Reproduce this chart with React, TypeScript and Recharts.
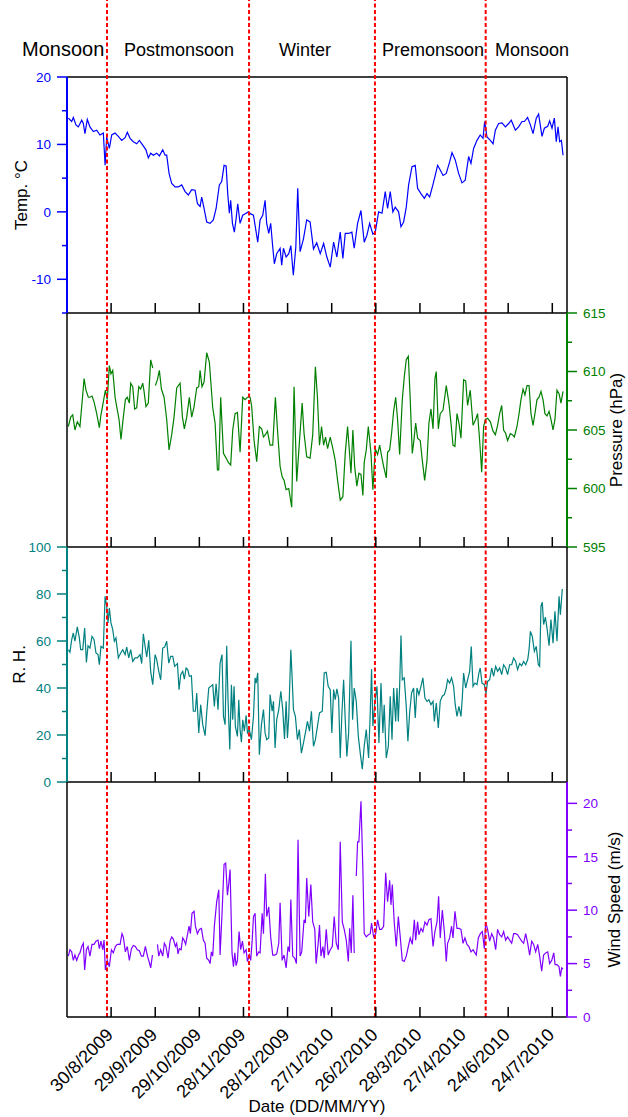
import { LineChart, Line, XAxis, YAxis, ReferenceLine } from "recharts";

type Pt = [number, number | null];

// x axis: days since 31/7/2009
const dateTicks = [30, 60, 90, 120, 150, 180, 210, 240, 270, 300, 330];
const dateLabels = [
  "30/8/2009",
  "29/9/2009",
  "29/10/2009",
  "28/11/2009",
  "28/12/2009",
  "27/1/2010",
  "26/2/2010",
  "28/3/2010",
  "27/4/2010",
  "24/6/2010",
  "24/7/2010",
];

const seasonBounds = [27.2, 123.8, 209.4, 284.7];
const seasonNames = ["Monsoon", "Postmonsoon", "Winter", "Premonsoon", "Monsoon"];

const tempTicks = [-15, -10, -5, 0, 5, 10, 15, 20];
const pressureTicks = [595, 597.5, 600, 602.5, 605, 607.5, 610, 612.5, 615];
const rhTicks = [0, 10, 20, 30, 40, 50, 60, 70, 80, 90, 100];
const windTicks = [0, 2.5, 5, 7.5, 10, 12.5, 15, 17.5, 20];

const temperature: Pt[] = [
  [0.9, 13.9], [3.2, 13.4], [4.3, 14.0], [6.1, 12.9], [7.7, 12.6], [10.0, 13.6], [11.1, 13.1], [12.2, 11.6],
  [13.8, 13.7], [15.6, 12.6], [17.9, 11.9], [20.2, 12.1], [22.4, 11.4], [24.7, 11.7], [25.9, 6.9], [27.0, 11.1],
  [28.8, 9.4], [30.4, 11.4], [32.7, 11.7], [34.9, 11.2], [37.2, 10.6], [39.5, 11.0], [41.0, 11.8], [42.9, 10.9],
  [45.1, 10.4], [47.4, 10.1], [49.2, 10.6], [51.5, 9.9], [53.7, 9.2], [55.3, 8.0], [56.9, 8.7], [58.7, 8.4],
  [61.0, 8.7], [62.8, 8.3], [65.1, 9.2], [66.7, 8.4], [67.8, 8.4], [69.4, 5.7], [71.2, 4.2], [73.5, 3.7],
  [75.7, 3.7], [78.0, 4.0], [80.3, 3.0], [82.5, 2.5], [84.8, 3.3], [87.1, 3.2], [88.7, 1.2], [90.5, 0.8],
  [91.6, 2.2], [93.2, 0.5], [95.0, -1.5], [97.3, -1.7], [99.5, -1.2], [101.4, 0.5], [103.6, 4.0], [105.2, 4.5],
  [106.8, 6.9], [108.2, 6.8], [109.3, 2.7], [110.4, -0.2], [111.3, 1.7], [112.5, -1.7], [113.8, -3.0], [115.0, -1.0],
  [116.1, 1.2], [117.7, -1.7], [119.5, -0.5], [121.8, -0.2], [123.4, 0.0], [124.9, -0.3], [126.8, -0.5], [127.9, -2.0],
  [129.7, -4.5], [131.3, -1.2], [133.1, -0.5], [134.7, 1.7], [135.8, -1.7], [137.2, -3.2], [138.5, -1.7], [139.9, -5.2],
  [141.0, -7.7], [142.6, -6.2], [144.9, -5.4], [146.0, -7.9], [147.2, -5.4], [149.0, -6.7], [150.8, -6.2], [152.2, -5.0],
  [153.9, -9.4], [155.6, -5.2], [156.9, 3.5], [158.5, -5.9], [160.8, -4.0], [163.0, -1.2], [165.3, -1.5], [167.6, -5.5],
  [169.8, -4.6], [172.2, -6.2], [174.5, -4.7], [176.7, -6.7], [179.0, -8.2], [181.3, -4.5], [183.5, -6.7], [185.8, -3.0],
  [187.6, -6.9], [189.2, -3.2], [191.5, -3.2], [193.7, -3.0], [195.3, -5.4], [197.6, -1.7], [199.9, 0.2], [202.1, -4.5],
  [203.9, -3.5], [205.8, -1.7], [208.0, -3.3], [209.6, -3.0], [211.9, 0.0], [214.2, -0.2], [216.4, 3.0], [218.0, 0.5],
  [219.8, 3.0], [221.6, 0.0], [223.2, 0.7], [225.5, 0.0], [227.1, -2.2], [228.9, -1.5], [230.7, 0.7], [232.3, 4.0],
  [234.6, 6.7], [236.8, 6.9], [238.4, 3.5], [240.7, 2.7], [243.0, 2.0], [244.8, 2.7], [246.6, 2.2], [248.8, 4.0],
  [250.4, 5.4], [252.0, 6.9], [253.8, 6.2], [255.7, 5.4], [257.9, 5.7], [260.2, 7.4], [261.8, 8.8], [264.0, 7.7],
  [266.3, 5.7], [268.6, 4.3], [270.8, 4.7], [273.1, 8.2], [274.7, 7.2], [276.5, 9.4], [278.8, 10.6], [281.0, 11.4],
  [282.9, 10.9], [284.0, 13.4], [285.6, 11.1], [287.9, 10.6], [289.7, 10.1], [291.3, 12.1], [293.5, 13.1], [295.8, 13.2],
  [298.1, 12.6], [300.3, 13.1], [302.1, 13.6], [304.9, 12.1], [307.1, 12.6], [309.4, 13.4], [311.0, 13.4], [313.2, 14.0],
  [315.1, 12.9], [316.9, 11.6], [319.1, 13.9], [320.7, 14.5], [323.0, 11.2], [324.6, 12.4], [326.9, 12.7], [328.2, 13.5],
  [329.8, 12.4], [331.4, 13.9], [332.7, 10.4], [333.9, 12.6], [335.0, 10.4], [336.2, 10.6], [337.3, 8.4],
];

const pressure: Pt[] = [
  [0.9, 605.3], [2.5, 606.1], [3.9, 606.3], [5.4, 605.0], [7.0, 605.7], [8.8, 605.3], [10.7, 608.0], [11.6, 609.4],
  [12.9, 608.4], [14.5, 607.8], [15.6, 607.8], [17.0, 607.9], [18.4, 607.4], [20.2, 606.4], [22.0, 605.2], [23.1, 606.3],
  [24.7, 607.4], [26.1, 608.4], [27.4, 607.6], [28.8, 610.5], [29.9, 609.8], [31.1, 610.1], [32.7, 607.8], [33.8, 607.0],
  [35.4, 605.9], [36.7, 604.2], [38.3, 606.1], [39.7, 607.6], [41.0, 607.8], [42.4, 607.3], [43.3, 609.0], [44.7, 608.7],
  [46.0, 606.8], [47.4, 606.9], [48.8, 608.7], [50.1, 608.5], [51.5, 609.0], [52.4, 608.3], [53.7, 607.0], [55.3, 607.3],
  [56.9, 611.0], [58.3, 610.3], [59.2, null], [60.1, 608.8], [61.5, 609.3], [62.8, 610.1], [64.2, 608.5], [66.0, 607.8],
  [67.8, 605.9], [69.4, 603.3], [71.2, 604.6], [72.8, 606.1], [74.6, 608.6], [76.9, 609.0], [78.5, 606.1], [79.8, 605.1],
  [81.4, 606.1], [83.2, 607.8], [84.8, 606.1], [86.4, 607.0], [88.2, 608.6], [89.6, 608.7], [90.5, 610.1], [91.8, 608.7],
  [93.2, 609.1], [95.0, 611.6], [96.8, 610.8], [99.1, 606.9], [100.7, 605.6], [102.3, 601.6], [103.2, 601.6], [104.5, 607.8],
  [106.4, 603.0], [108.2, 602.6], [109.8, 602.2], [111.3, 602.0], [112.7, 605.0], [114.3, 606.4], [115.9, 606.5], [117.7, 603.1],
  [119.5, 607.8], [121.1, 607.6], [122.7, 607.8], [124.5, 607.8], [125.6, 607.0], [127.2, 604.1], [129.0, 602.3], [130.8, 605.3],
  [132.4, 605.1], [133.6, 604.4], [134.9, 604.6], [136.3, 604.9], [138.1, 603.7], [139.9, 603.7], [141.7, 607.8], [143.3, 604.7],
  [144.9, 601.9], [146.3, 601.0], [147.6, 600.7], [149.0, 599.9], [150.8, 600.0], [152.8, 598.4], [154.4, 608.7], [156.2, 600.6],
  [158.0, 603.9], [159.9, 607.3], [161.2, 604.7], [163.0, 602.7], [165.3, 602.6], [167.1, 604.6], [168.9, 610.4], [170.3, 607.8],
  [171.7, 603.7], [173.1, 605.3], [174.5, 603.7], [175.8, 604.4], [177.2, 603.4], [179.0, 604.4], [180.8, 603.4], [182.4, 602.4],
  [184.0, 600.7], [185.8, 599.0], [187.6, 599.3], [189.2, 603.0], [190.8, 605.3], [192.2, 602.9], [193.1, 601.3], [194.4, 605.0],
  [195.6, 601.9], [197.1, 600.2], [198.5, 601.3], [199.9, 601.2], [201.2, 599.4], [202.1, 602.2], [203.5, 603.3], [204.9, 605.3],
  [206.7, 603.0], [208.0, 599.9], [209.6, 603.4], [211.2, 602.9], [212.6, 603.7], [214.2, 602.6], [215.3, 601.9], [217.1, 600.9],
  [218.0, 603.1], [219.4, 603.3], [220.7, 604.7], [222.1, 606.6], [223.5, 607.8], [224.8, 605.9], [226.2, 602.9], [228.0, 607.6],
  [229.4, 609.6], [230.7, 611.0], [232.1, 611.3], [233.4, 607.6], [234.8, 603.0], [235.7, 603.9], [237.1, 605.6], [238.4, 604.3],
  [240.2, 604.1], [241.6, 602.4], [243.2, 600.7], [244.8, 602.4], [246.1, 605.6], [247.5, 606.8], [248.9, 605.1], [250.2, 609.4],
  [251.1, 610.0], [252.5, 605.1], [253.8, 606.4], [255.7, 606.7], [257.9, 608.8], [259.7, 607.3], [261.1, 605.6], [262.5, 603.7],
  [263.8, 603.6], [265.2, 606.4], [266.5, 605.6], [267.9, 604.3], [269.7, 609.3], [271.1, 609.2], [272.4, 607.1], [274.2, 608.4],
  [276.1, 605.4], [277.9, 605.9], [279.2, 606.4], [280.6, 604.1], [282.0, 601.4], [283.3, 605.3], [284.5, 605.9], [286.0, 606.0],
  [287.9, 605.7], [289.7, 604.9], [291.3, 604.6], [292.8, 605.4], [294.2, 606.4], [295.6, 607.1], [296.9, 605.0], [298.3, 604.7],
  [299.6, 604.1], [301.5, 604.7], [302.8, 604.6], [304.2, 604.4], [306.0, 605.3], [307.4, 606.4], [308.7, 607.6], [310.1, 608.5],
  [311.4, 608.0], [312.8, 608.8], [314.2, 608.8], [315.5, 606.4], [316.9, 605.4], [318.2, 606.4], [319.6, 607.6], [321.0, 607.8],
  [322.3, 608.3], [323.7, 607.6], [325.0, 606.4], [326.4, 606.2], [327.8, 606.6], [329.1, 605.9], [330.5, 605.0], [331.8, 605.9],
  [333.2, 608.4], [334.6, 608.1], [335.9, 607.3], [337.3, 608.3],
];

const humidity: Pt[] = [
  [0.9, 56.3], [2.0, 55.2], [3.2, 60.6], [4.3, 63.4], [5.4, 59.9], [7.0, 66.0], [8.4, 61.3], [9.3, 56.3],
  [10.7, 56.3], [12.0, 65.5], [13.2, 50.9], [14.3, 58.0], [15.6, 57.0], [17.0, 62.0], [18.4, 60.6], [19.7, 54.9],
  [21.1, 54.2], [22.0, 49.9], [23.1, 57.7], [24.7, 57.0], [25.9, 79.0], [27.0, 74.8], [27.9, 67.7], [28.8, 74.0],
  [29.9, 67.7], [31.1, 64.8], [32.2, 59.9], [33.3, 61.3], [34.9, 52.8], [36.5, 54.9], [37.9, 56.3], [39.5, 54.2],
  [40.6, 57.4], [42.0, 52.8], [43.3, 56.3], [44.7, 51.3], [46.3, 52.8], [47.8, 52.8], [49.7, 54.2], [50.8, 50.4],
  [51.9, 63.1], [53.1, 57.7], [54.2, 53.2], [55.6, 60.3], [56.9, 47.1], [58.3, 41.4], [59.9, 54.2], [61.0, 52.1],
  [62.4, 47.1], [63.7, 43.5], [65.1, 57.0], [66.4, 57.4], [67.8, 59.9], [69.2, 50.6], [70.5, 53.5], [71.9, 53.5],
  [73.2, 49.2], [75.1, 50.4], [76.2, 39.3], [77.3, 45.7], [78.7, 47.1], [79.8, 43.8], [81.0, 48.5], [82.1, 47.8],
  [83.2, 45.0], [84.6, 45.2], [85.9, 30.1], [87.3, 30.1], [88.2, 37.9], [89.6, 20.9], [90.9, 32.9], [92.3, 24.4],
  [93.9, 19.7], [95.0, 29.4], [96.4, 40.0], [97.7, 40.7], [99.1, 41.4], [100.2, 32.2], [101.4, 41.8], [102.7, 30.8],
  [104.1, 50.6], [105.4, 54.2], [106.4, 27.9], [107.5, 24.4], [108.6, 58.0], [109.5, 35.0], [110.7, 13.8], [111.8, 41.4],
  [112.7, 26.5], [113.6, 40.7], [114.5, 23.7], [115.9, 19.4], [116.8, 35.0], [117.7, 22.3], [118.6, 16.9], [119.5, 26.5],
  [120.6, 21.6], [121.8, 28.4], [122.7, 20.9], [124.0, 22.3], [125.4, 18.0], [126.8, 27.9], [127.9, 44.3], [128.6, 42.1],
  [129.7, 46.4], [130.8, 11.6], [132.2, 24.4], [133.6, 30.8], [134.7, 20.9], [135.8, 18.0], [137.2, 18.7], [138.1, 37.2],
  [139.5, 30.1], [140.4, 34.3], [141.5, 14.5], [142.6, 26.5], [144.0, 30.8], [145.4, 38.6], [146.7, 30.8], [147.9, 18.3],
  [149.0, 34.3], [149.9, 18.7], [150.8, 27.9], [152.2, 56.3], [153.1, 44.3], [154.0, 30.8], [155.3, 27.9], [156.7, 18.0],
  [158.0, 22.3], [159.4, 12.3], [160.8, 16.6], [162.1, 20.9], [163.5, 25.8], [164.9, 21.6], [166.2, 30.1], [167.6, 15.2],
  [168.9, 18.0], [170.3, 23.7], [171.7, 29.4], [173.6, 30.1], [174.9, 46.4], [176.3, 46.7], [177.6, 40.7], [179.0, 39.3],
  [180.1, 20.9], [181.3, 39.3], [182.4, 35.0], [183.5, 39.6], [184.7, 35.7], [185.8, 10.2], [186.9, 28.7], [188.1, 43.5],
  [189.2, 26.5], [190.3, 10.9], [191.5, 20.9], [193.1, 60.1], [194.2, 26.5], [195.3, 40.0], [196.7, 34.3], [198.1, 19.4],
  [199.4, 12.3], [200.8, 5.5], [202.1, 15.2], [203.5, 22.3], [205.1, 10.2], [206.2, 29.4], [207.1, 48.1], [208.0, 23.7],
  [209.4, 34.3], [210.8, 40.7], [212.1, 16.6], [213.5, 42.1], [214.8, 20.9], [215.7, 32.9], [217.1, 10.2], [218.5, 15.2],
  [219.8, 36.5], [221.0, 18.0], [222.1, 40.0], [223.5, 25.8], [224.4, 40.0], [225.3, 25.8], [226.2, 40.7], [227.1, 62.3],
  [228.0, 43.5], [229.3, 44.3], [230.7, 32.2], [231.8, 17.3], [233.0, 29.4], [234.3, 37.9], [235.7, 40.0], [236.8, 27.2],
  [238.0, 40.0], [239.3, 37.2], [240.7, 40.7], [242.0, 44.3], [243.4, 35.7], [244.8, 34.3], [246.1, 35.0], [247.5, 32.9],
  [248.9, 34.3], [249.8, 25.8], [251.1, 33.6], [252.5, 23.0], [253.8, 34.3], [255.2, 36.5], [256.6, 37.2], [257.9, 40.0],
  [258.8, 43.5], [260.2, 42.1], [261.5, 44.3], [262.9, 40.7], [264.0, 32.9], [265.2, 27.9], [266.5, 32.2], [267.9, 27.9],
  [268.8, 35.7], [269.7, 46.4], [271.1, 40.0], [272.4, 43.5], [273.8, 47.1], [274.9, 57.7], [276.1, 40.7], [277.4, 42.1],
  [278.8, 41.4], [280.1, 46.4], [281.0, 48.5], [282.2, 42.1], [283.8, 41.4], [284.9, 37.6], [286.0, 42.8], [287.4, 43.5],
  [288.8, 48.5], [290.1, 45.0], [291.5, 49.2], [292.8, 47.1], [294.2, 48.5], [295.6, 45.7], [296.9, 49.9], [298.3, 48.5],
  [299.6, 45.7], [301.0, 49.9], [302.4, 49.9], [303.7, 52.8], [305.1, 51.3], [306.4, 47.8], [307.8, 50.4], [309.2, 49.5],
  [310.5, 51.3], [311.9, 49.9], [313.3, 52.1], [314.2, 56.3], [315.1, 64.1], [316.4, 62.0], [317.8, 55.6], [319.1, 57.7],
  [320.5, 49.9], [321.4, 49.2], [322.3, 74.8], [323.2, 76.5], [324.1, 67.0], [325.3, 70.2], [326.4, 65.5], [327.8, 58.0],
  [329.1, 69.1], [330.5, 59.1], [331.8, 72.6], [333.2, 59.9], [334.6, 79.0], [335.5, 71.2], [336.8, 82.1],
];

const windSpeed: Pt[] = [
  [0.9, 5.7], [2.0, 6.3], [3.2, 6.1], [4.3, 5.3], [5.4, 5.8], [6.6, 5.3], [7.9, 5.8], [8.8, 6.0],
  [10.0, 6.6], [11.1, 6.9], [12.0, 4.4], [13.2, 6.3], [14.3, 6.6], [15.6, 5.7], [17.0, 6.8], [18.4, 6.8],
  [19.7, 7.1], [21.1, 7.2], [22.0, 6.4], [23.1, 7.1], [24.3, 6.3], [25.2, 7.2], [26.1, 4.4], [27.4, 5.3],
  [28.8, 4.7], [30.2, 6.3], [31.5, 6.0], [32.9, 6.6], [34.2, 6.8], [36.1, 6.8], [37.4, 7.8], [38.3, 7.5],
  [39.7, 6.1], [41.0, 6.6], [42.4, 5.3], [43.8, 6.4], [45.1, 6.7], [46.5, 6.6], [47.8, 6.3], [49.2, 6.2],
  [50.6, 5.7], [51.9, 5.7], [53.3, 6.6], [54.7, 5.7], [56.0, 5.1], [56.9, 4.6], [58.1, 5.8], [59.8, null],
  [61.5, 6.8], [62.4, 5.7], [63.7, 6.3], [65.1, 5.7], [66.2, 6.9], [67.3, 6.6], [68.7, 5.5], [70.1, 7.1],
  [71.2, 7.5], [72.3, 7.3], [73.7, 6.6], [74.6, 6.9], [75.5, 5.9], [76.4, 6.4], [77.6, 6.3], [78.7, 7.4],
  [79.6, 7.2], [80.7, 6.8], [81.9, 7.7], [83.0, 8.5], [83.9, 7.8], [85.0, 9.7], [86.4, 9.9], [87.3, 8.5],
  [88.7, 7.8], [90.0, 8.2], [91.4, 8.3], [92.7, 7.2], [93.9, 6.9], [95.0, 5.5], [96.4, 5.3], [97.3, 5.0],
  [98.2, 6.1], [99.1, 5.7], [100.2, 8.5], [101.8, 10.8], [103.2, 11.9], [104.1, 5.8], [105.4, 9.6], [106.8, 14.3],
  [107.9, 14.4], [109.1, 11.4], [110.0, 12.5], [110.9, 13.8], [112.2, 6.0], [113.2, 4.7], [114.1, 6.0], [115.0, 4.8],
  [115.9, 5.3], [117.0, 8.0], [118.1, 6.3], [119.3, 7.1], [120.4, 6.0], [121.8, 6.3], [122.7, 5.2], [124.0, 5.8],
  [124.9, 5.3], [125.9, 7.1], [126.8, 9.4], [127.9, 9.7], [129.0, 5.7], [130.4, 6.1], [131.3, 6.0], [132.7, 9.7],
  [133.6, 7.8], [134.9, 13.4], [135.8, 9.4], [137.2, 10.3], [138.5, 7.5], [139.9, 5.8], [141.3, 5.8], [142.6, 5.9],
  [144.0, 6.9], [144.9, 10.7], [146.3, 5.3], [147.6, 5.8], [149.0, 4.6], [150.3, 6.6], [151.3, 6.1], [152.2, 11.0],
  [153.5, 5.7], [154.9, 5.5], [156.0, 5.0], [157.1, 16.6], [158.5, 5.7], [159.6, 6.1], [161.2, 9.1], [162.1, 8.8],
  [163.0, 13.0], [164.4, 9.4], [165.8, 12.4], [167.1, 8.9], [168.5, 8.2], [169.4, 5.0], [170.8, 6.9], [171.7, 8.6],
  [172.7, 5.7], [174.0, 6.6], [174.9, 5.5], [176.3, 8.2], [177.6, 5.8], [179.0, 6.3], [180.4, 6.6], [181.7, 9.4],
  [183.1, 6.9], [184.5, 6.3], [185.8, 16.4], [187.2, 8.9], [188.5, 8.2], [189.9, 7.2], [191.3, 5.2], [192.2, 8.3],
  [193.3, 6.0], [194.4, 11.4], [195.3, 6.0], [196.0, null], [196.7, 13.2], [197.6, 16.4], [198.5, 16.4], [199.9, 20.2],
  [201.2, 13.8], [202.1, 7.8], [203.5, 7.5], [204.9, 7.7], [206.2, 7.8], [207.1, 8.8], [208.5, 7.5], [209.9, 7.8],
  [211.2, 9.1], [212.6, 8.2], [213.9, 8.2], [215.3, 8.5], [216.7, 13.5], [218.0, 10.8], [219.4, 12.8], [220.3, 10.5],
  [221.2, 12.4], [222.5, 8.9], [223.9, 6.6], [225.3, 9.4], [226.6, 7.5], [228.0, 5.3], [229.3, 5.2], [230.7, 5.7],
  [232.1, 6.6], [233.4, 7.4], [234.8, 6.8], [236.2, 9.1], [237.1, 7.2], [238.4, 8.9], [239.3, 7.7], [240.7, 8.3],
  [242.0, 8.0], [243.4, 8.9], [244.8, 8.6], [246.1, 9.1], [247.5, 9.2], [248.9, 6.6], [250.2, 8.0], [251.6, 8.9],
  [252.7, 11.3], [253.8, 7.4], [255.2, 10.0], [256.6, 8.0], [257.9, 5.2], [258.8, 6.9], [260.2, 7.4], [261.5, 8.5],
  [262.5, 7.4], [263.8, 9.9], [265.2, 8.3], [266.5, 8.3], [267.9, 8.2], [269.3, 6.9], [270.6, 7.4], [272.0, 6.8],
  [273.3, 6.6], [274.7, 6.1], [276.1, 6.3], [277.4, 6.0], [278.3, 5.8], [279.7, 7.4], [281.1, 7.8], [282.4, 8.0],
  [283.8, 6.4], [284.7, 8.9], [286.0, 8.2], [287.4, 7.1], [288.8, 7.8], [290.1, 7.4], [291.5, 6.3], [292.8, 8.2],
  [294.2, 7.7], [295.6, 7.5], [296.9, 8.0], [298.3, 7.2], [299.6, 7.5], [301.0, 7.2], [302.4, 6.9], [303.7, 7.8],
  [305.1, 7.8], [306.4, 7.7], [307.8, 7.4], [309.2, 7.1], [310.5, 6.9], [311.9, 7.8], [313.3, 6.9], [314.6, 5.8],
  [316.0, 7.1], [317.3, 6.8], [318.7, 6.1], [320.1, 6.8], [321.4, 5.7], [322.8, 4.3], [324.1, 5.8], [325.5, 6.0],
  [326.9, 6.1], [328.2, 5.0], [329.6, 5.3], [331.0, 6.0], [331.9, 4.9], [333.2, 4.9], [334.6, 4.7], [335.5, 3.8],
  [336.4, 4.6], [337.3, 4.5],
];

const FONT = "'Liberation Sans', Arial, Helvetica, sans-serif";

// y tick: long tick + label on major values, short tick otherwise
function valueTick(side: "left" | "right", color: string, major: number) {
  return (props: any) => {
    const { x, y, payload } = props;
    const v = payload.value;
    const isMajor = Math.abs(v / major - Math.round(v / major)) < 1e-6;
    const dir = side === "left" ? -1 : 1;
    const len = isMajor ? 10 : 5;
    return (
      <g>
        <line x1={x} y1={y} x2={x + dir * len} y2={y} stroke={color} strokeWidth={1.5} />
        {isMajor && (
          <text
            x={x + dir * 16}
            y={y}
            dy="0.36em"
            textAnchor={side === "left" ? "end" : "start"}
            fill={color}
            fontSize={13.5}
          >
            {v}
          </text>
        )}
      </g>
    );
  };
}

function dateTick(showLabel: boolean) {
  return (props: any) => {
    const { x, y, payload } = props;
    const label = dateLabels[dateTicks.indexOf(payload.value)];
    const ax = x + 3;
    const ay = y + 19;
    return (
      <g>
        <line x1={x} y1={y} x2={x} y2={y - 10} stroke="#000" strokeWidth={1.5} />
        {showLabel && (
          <text x={ax} y={ay} transform={`rotate(-45 ${ax} ${ay})`} textAnchor="end" fill="#000" fontSize={18}>
            {label}
          </text>
        )}
      </g>
    );
  };
}

interface PanelProps {
  top: number;
  height: number;
  marginTop: number;
  marginBottom: number;
  xHeight: number;
  points: Pt[];
  color: string;
  domain: [number, number];
  ticks: number[];
  major: number;
  side: "left" | "right";
  title: string;
  titleOffset: number;
  showDates?: boolean;
  topBorder?: boolean;
  extendTo?: number;
}

function Panel(p: PanelProps) {
  const data = p.points.map(([d, v]) => ({ d, v }));
  const frame = { stroke: "#000", strokeWidth: 1.5 };
  const colored = { stroke: p.color, strokeWidth: 2 };
  const titleLabel = {
    value: p.title,
    angle: -90,
    position: p.side === "left" ? "insideLeft" : "insideRight",
    offset: p.titleOffset,
    fill: "#000",
    fontSize: 17,
    style: { textAnchor: "middle", fontSize: 17 },
  } as any;
  return (
    <div style={{ position: "absolute", left: 0, top: p.top }}>
      <LineChart
        width={628}
        height={p.height}
        data={data}
        margin={{ top: p.marginTop, right: 0, bottom: p.marginBottom, left: 0 }}
      >
        <XAxis
          dataKey="d"
          type="number"
          domain={[0, 340]}
          ticks={dateTicks}
          interval={0}
          allowDataOverflow
          height={p.xHeight}
          tickSize={0}
          tickMargin={0}
          tickLine={false}
          axisLine={frame}
          tick={dateTick(!!p.showDates)}
        />
        <YAxis
          yAxisId="l"
          orientation="left"
          width={67}
          domain={p.domain}
          ticks={p.ticks}
          interval={0}
          allowDataOverflow
          tickSize={0}
          tickMargin={0}
          tickLine={false}
          axisLine={p.side === "left" ? colored : frame}
          tick={p.side === "left" ? valueTick("left", p.color, p.major) : false}
          label={p.side === "left" ? titleLabel : undefined}
        />
        <YAxis
          yAxisId="r"
          orientation="right"
          width={61}
          domain={p.domain}
          ticks={p.ticks}
          interval={0}
          allowDataOverflow
          tickSize={0}
          tickMargin={0}
          tickLine={false}
          axisLine={p.side === "right" ? colored : frame}
          tick={p.side === "right" ? valueTick("right", p.color, p.major) : false}
          label={p.side === "right" ? titleLabel : undefined}
        />
        {p.topBorder && <ReferenceLine yAxisId="l" y={p.domain[1]} stroke="#000" strokeWidth={1.5} />}
        <Line
          yAxisId={p.side === "left" ? "l" : "r"}
          dataKey="v"
          type="linear"
          stroke={p.color}
          strokeWidth={1.2}
          dot={false}
          connectNulls={false}
          isAnimationActive={false}
        />
        {seasonBounds.map((b) =>
          p.extendTo !== undefined ? (
            <ReferenceLine
              key={b}
              yAxisId="l"
              segment={[
                { x: b, y: p.domain[0] },
                { x: b, y: p.extendTo },
              ]}
              ifOverflow="visible"
              stroke="#ff0000"
              strokeWidth={2}
              strokeDasharray="4 2.5"
            />
          ) : (
            <ReferenceLine key={b} yAxisId="l" x={b} stroke="#ff0000" strokeWidth={2} strokeDasharray="4 2.5" />
          )
        )}
      </LineChart>
    </div>
  );
}

const seasonX = [22, 124, 279, 382, 495];

export default function App() {
  return (
    <div
      style={{
        position: "absolute",
        left: 0,
        top: 0,
        width: 628,
        height: 1117,
        background: "#fff",
        fontFamily: FONT,
        overflow: "hidden",
      }}
    >
      <Panel
        top={0}
        height={325}
        marginTop={77}
        marginBottom={11}
        xHeight={1}
        points={temperature}
        color="#0000ff"
        domain={[-15, 20]}
        ticks={tempTicks}
        major={10}
        side="left"
        title="Temp. °C"
        titleOffset={21}
        topBorder
        extendTo={32}
      />
      <Panel
        top={301}
        height={258}
        marginTop={12}
        marginBottom={11}
        xHeight={1}
        points={pressure}
        color="#008000"
        domain={[595, 615]}
        ticks={pressureTicks}
        major={5}
        side="right"
        title="Pressure (hPa)"
        titleOffset={12}
      />
      <Panel
        top={535}
        height={259}
        marginTop={12}
        marginBottom={11}
        xHeight={1}
        points={humidity}
        color="#008080"
        domain={[0, 100]}
        ticks={rhTicks}
        major={20}
        side="left"
        title="R. H."
        titleOffset={19}
      />
      <Panel
        top={770}
        height={347}
        marginTop={12}
        marginBottom={0}
        xHeight={100}
        points={windSpeed}
        color="#8000ff"
        domain={[0, 22]}
        ticks={windTicks}
        major={5}
        side="right"
        title="Wind Speed (m/s)"
        titleOffset={14}
        showDates
      />
      <svg width={628} height={77} style={{ position: "absolute", left: 0, top: 0, pointerEvents: "none" }}>
        {seasonNames.map((name, i) => (
          <text key={i} x={seasonX[i]} y={56} fontSize={i === 0 ? 20 : 18} fill="#000">
            {name}
          </text>
        ))}
      </svg>
      <svg width={628} height={30} style={{ position: "absolute", left: 0, top: 1087, pointerEvents: "none" }}>
        <text x={317} y={25} textAnchor="middle" fontSize={17} fill="#000">
          Date (DD/MM/YY)
        </text>
      </svg>
    </div>
  );
}
